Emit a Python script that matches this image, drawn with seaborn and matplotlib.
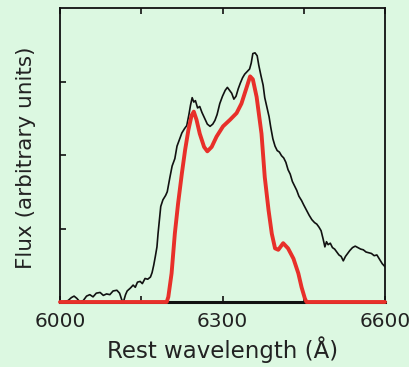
import matplotlib
matplotlib.use("Agg")
import matplotlib.pyplot as plt
import numpy as np
import pandas as pd
import seaborn as sns

# Observed spectrum (rest wavelength in Å, flux in arbitrary units)
obs_wave = [6005, 6015, 6021, 6026, 6031, 6037, 6043, 6049, 6055, 6061, 6067, 6074,
            6080, 6086, 6092, 6098, 6105, 6110, 6114, 6117, 6121, 6124, 6130, 6135,
            6139, 6143, 6148, 6152, 6157, 6162, 6167, 6170, 6173, 6176, 6179, 6181,
            6184, 6186, 6190, 6195, 6198, 6203, 6207, 6212, 6216, 6221, 6225, 6230,
            6234, 6238, 6241, 6244, 6247, 6250, 6254, 6258, 6262, 6267, 6272, 6277,
            6282, 6286, 6290, 6295, 6300, 6305, 6309, 6313, 6317, 6321, 6325, 6329,
            6333, 6337, 6341, 6346, 6350, 6353, 6356, 6360, 6364, 6367, 6371, 6375,
            6378, 6382, 6386, 6389, 6393, 6397, 6401, 6405, 6409, 6413, 6417, 6421,
            6425, 6429, 6433, 6437, 6441, 6446, 6450, 6455, 6460, 6465, 6470, 6474,
            6478, 6482, 6486, 6489, 6492, 6495, 6499, 6503, 6507, 6511, 6515, 6519,
            6523, 6527, 6531, 6535, 6540, 6545, 6550, 6555, 6560, 6565, 6570, 6575,
            6580, 6585, 6590, 6595, 6600]
obs_flux = [0.00, 0.02, 0.06, 0.08, 0.05, 0.00, 0.02, 0.08, 0.10, 0.07, 0.12, 0.13,
            0.09, 0.11, 0.10, 0.15, 0.16, 0.12, 0.03, 0.00, 0.10, 0.15, 0.19, 0.23,
            0.20, 0.27, 0.28, 0.25, 0.32, 0.31, 0.34, 0.40, 0.50, 0.62, 0.75, 0.93,
            1.15, 1.30, 1.39, 1.45, 1.50, 1.70, 1.85, 1.95, 2.12, 2.22, 2.30, 2.36,
            2.40, 2.55, 2.68, 2.78, 2.72, 2.74, 2.64, 2.66, 2.58, 2.50, 2.42, 2.39,
            2.42, 2.47, 2.55, 2.70, 2.80, 2.88, 2.92, 2.88, 2.84, 2.76, 2.80, 2.90,
            2.98, 3.05, 3.10, 3.14, 3.17, 3.25, 3.38, 3.39, 3.35, 3.22, 3.08, 2.95,
            2.78, 2.65, 2.52, 2.38, 2.22, 2.12, 2.06, 2.04, 1.99, 1.96, 1.90, 1.80,
            1.74, 1.64, 1.58, 1.52, 1.44, 1.38, 1.32, 1.25, 1.18, 1.12, 1.08, 1.06,
            1.02, 0.97, 0.85, 0.75, 0.82, 0.78, 0.80, 0.74, 0.72, 0.68, 0.64, 0.62,
            0.56, 0.62, 0.66, 0.70, 0.74, 0.76, 0.74, 0.72, 0.71, 0.68, 0.67, 0.66,
            0.63, 0.64, 0.58, 0.52, 0.48]

# Model line profile
model_wave = [6000, 6197, 6200, 6206, 6212, 6218, 6225, 6231, 6237, 6243, 6247,
              6252, 6258, 6266, 6272, 6280, 6289, 6301, 6314, 6326, 6335, 6345,
              6351, 6356, 6363, 6372, 6378, 6385, 6391, 6397, 6403, 6412, 6421,
              6431, 6440, 6446, 6452, 6455, 6600]
model_flux = [0.00, 0.00, 0.07, 0.39, 0.93, 1.34, 1.75, 2.07, 2.34, 2.54, 2.59,
              2.48, 2.29, 2.11, 2.05, 2.11, 2.25, 2.39, 2.48, 2.57, 2.70, 2.93,
              3.07, 3.03, 2.79, 2.29, 1.70, 1.25, 0.93, 0.73, 0.71, 0.80, 0.73,
              0.59, 0.39, 0.20, 0.05, 0.00, 0.00]

x_major = [6000, 6300, 6600]
x_minor = [6150, 6450]
y_ticks = [1, 2, 3]

bg = "#dcf8e1"
sns.set_theme(style="ticks", rc={"figure.facecolor": bg, "axes.facecolor": bg,
                                 "savefig.facecolor": bg})
plt.rcParams["font.family"] = ["DejaVu Sans"]

obs = pd.DataFrame({"wave": obs_wave, "flux": obs_flux})
model = pd.DataFrame({"wave": model_wave, "flux": model_flux})

fig = plt.figure(figsize=(4.10, 3.67), dpi=100)
ax = fig.add_axes([60 / 410, 1 - 302 / 367, 325 / 410, 294 / 367])

sns.lineplot(data=obs, x="wave", y="flux", color="#111111", linewidth=1.2,
             ax=ax, zorder=3, estimator=None, sort=False)
sns.lineplot(data=model, x="wave", y="flux", color="#e8302a", linewidth=2.8,
             ax=ax, zorder=4, estimator=None, sort=False, clip_on=False)

ax.set_xlim(6000, 6600)
ax.set_ylim(0, 4)
ax.set_xticks(x_major)
ax.set_xticks(x_minor, minor=True)
ax.set_xticklabels([str(v) for v in x_major])
ax.set_yticks(y_ticks)
ax.set_yticklabels([])

ax.tick_params(axis="both", which="both", direction="in", top=True, right=False,
               length=4, width=1.2, color="#111111")
ax.tick_params(axis="x", which="major", labelsize=14.5, pad=7, labelcolor="#222222")

for side, sp in ax.spines.items():
    sp.set_visible(True)
    sp.set_color("#111111")
    sp.set_linewidth(1.3)
    sp.set_zorder(2)
ax.spines["bottom"].set_linewidth(2.2)

ax.set_xlabel("Rest wavelength (Å)", fontsize=16.5, color="#222222", labelpad=4)
ax.set_ylabel("Flux (arbitrary units)", fontsize=15.5, color="#222222")
ax.yaxis.set_label_coords(-0.075, 0.49)

fig.savefig("out.png", dpi=100)
